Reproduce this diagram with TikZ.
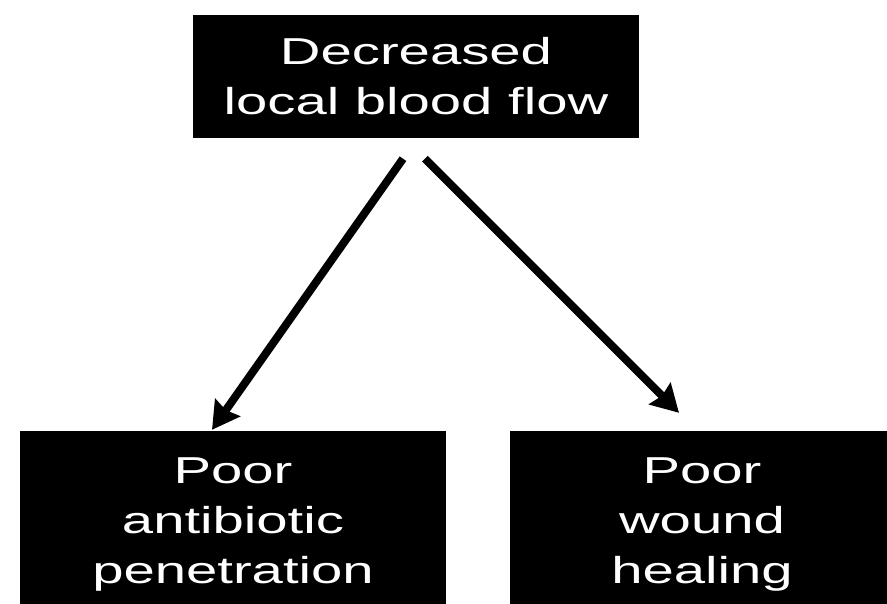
\documentclass[tikz,border=0pt]{standalone}
\usepackage{fontspec}
\setmainfont{Liberation Sans}[FakeStretch=1.5]
\usetikzlibrary{arrows.meta}
\begin{document}
\begin{tikzpicture}[x=1pt, y=-1pt, line join=round, >={Stealth[length=27pt,width=30pt,inset=3pt]}]
	\tikzset{blk/.style={fill=black, text=white, align=center, inner sep=0pt, font=\fontsize{37.5}{50}\selectfont},
		arr/.style={->, line width=8pt}}
	\path[use as bounding box] (0,0) rectangle (887,603);
	\node[blk, minimum width=446pt, minimum height=123pt] (flow) at (416,76) {Decreased\\local blood flow};
	\node[blk, minimum width=426pt, minimum height=186pt] (pen) at (233,524) {Poor\\antibiotic\\penetration};
	\node[blk, minimum width=384pt, minimum height=186pt] (heal) at (702,524) {Poor\\wound\\healing};
	\draw[arr]([xshift=-13pt,yshift=-21pt]flow.south) -- ([xshift=-21pt,yshift=1pt]pen.north);
	\draw[arr]([xshift=9pt,yshift=-21pt]flow.south) -- ([xshift=-23pt,yshift=18pt]heal.north);
\end{tikzpicture}
\end{document}
